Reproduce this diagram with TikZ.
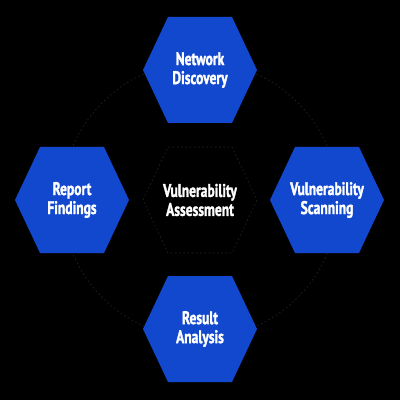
\documentclass[tikz,border=0pt]{standalone}
\usepackage{fontspec}
\setmainfont{PT Sans}[BoldFont={PT Sans Bold}, BoldFeatures={FakeBold=1.6}, FakeStretch=0.74]
\usetikzlibrary{positioning}
\definecolor{hexblue}{RGB}{18,72,205}
\definecolor{ringgray}{RGB}{38,38,38}
\tikzset{
  hexlabel/.style={text=white, font=\fontsize{13}{13.5}\selectfont\bfseries, align=center, inner sep=0pt},
  hexfill/.style={fill=hexblue},
  ringline/.style={draw=ringgray, dash pattern=on 1.2pt off 1.8pt, thin},
}
% hexagon around a coordinate, pointed left and right
\newcommand{\hexpath}[1]{(#1) ++(-57,0) -- ++(25,-53) -- ++(64,0) -- ++(25,53) -- ++(-25,53) -- ++(-64,0) -- cycle}
\begin{document}
\begin{tikzpicture}[x=0.025cm,y=-0.025cm]
\fill[black] (0,0) rectangle (400,400);
\useasboundingbox (0,0) rectangle (400,400);
\coordinate (mid) at (200,200);
\draw[ringline] (mid) circle[radius=138];
% centre
\draw[ringline, fill=black] \hexpath{mid};
\node[hexlabel] (assess) at (mid) {Vulnerability\\Assessment};
% the four steps
\foreach \x/\y/\nm/\txt in {200/70/discovery/{Network\\Discovery},
    327/200/scanning/{Vulnerability\\Scanning},
    200/329/analysis/{Result\\Analysis},
    72/200/report/{Report\\Findings}} {
  \coordinate (\nm-c) at (\x,\y);
  \fill[hexfill] \hexpath{\nm-c};
  \node[hexlabel] (\nm) at (\nm-c) {\txt};
}
\end{tikzpicture}
\end{document}
